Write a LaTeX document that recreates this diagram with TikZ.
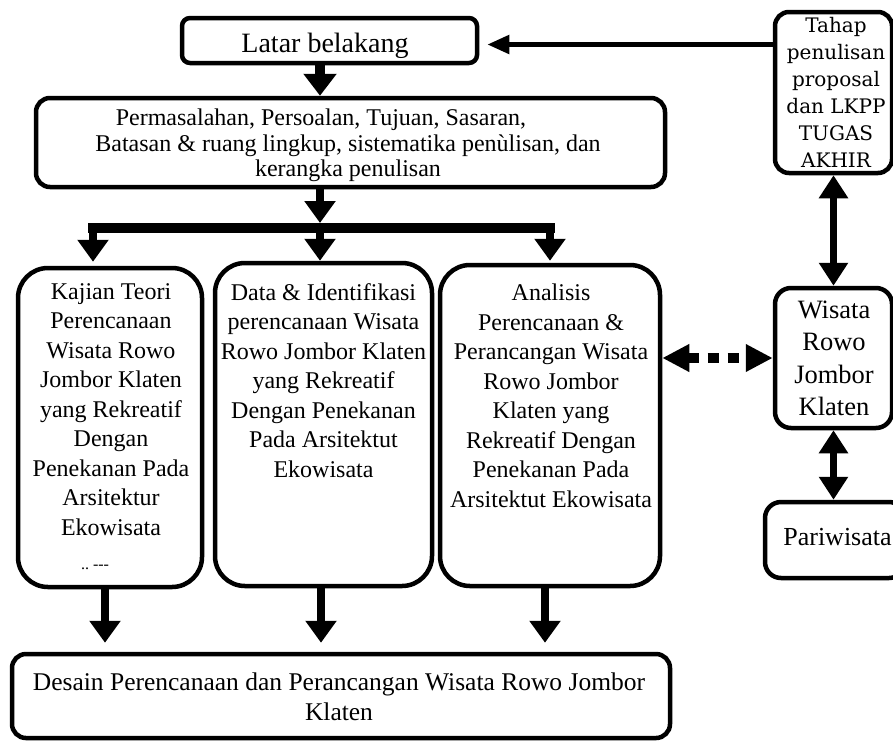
\documentclass[tikz,border=0pt]{standalone}
\usepackage{fontspec}
\setmainfont{Liberation Serif}
\newfontfamily\slabfont{DejaVu Serif}
\usetikzlibrary{arrows.meta}
\begin{document}
\begin{tikzpicture}[x=1pt,y=-1pt,
  box/.style={draw=black, fill=white, line width=4.5pt, rounded corners=#1, inner sep=0pt},
  box/.default=12pt,
  txt/.style={inner sep=0pt, align=center, anchor=north},
  t24/.style={font=\fontsize{24}{29.5}\selectfont},
  toparr/.style={line width=5pt, -{Triangle[length=22pt,width=18pt]}},
  bigarr/.style={line width=10pt, -{Triangle[length=22pt,width=32pt]}},
  arr/.style={line width=8pt, -{Triangle[length=22pt,width=30pt]}},
  dbl/.style={line width=7.5pt, {Triangle[length=23pt,width=28pt]}-{Triangle[length=23pt,width=28pt]}},
  dotarr/.style={line width=10pt, dash pattern=on 11pt off 9pt, {Triangle[length=27pt,width=26pt]}-{Triangle[length=27pt,width=26pt]}}
]
\useasboundingbox (0,0) rectangle (893,742);

% boxes
\node[box=8pt, minimum width=295pt, minimum height=45pt] (latar) at (329.5,40.5) {};
\node[box=14pt, minimum width=629pt, minimum height=89pt] (perm) at (350.5,142.5) {};
\node[box=30pt, minimum width=184pt, minimum height=319pt] (b1) at (110,427.5) {};
\node[box=30pt, minimum width=217pt, minimum height=323pt] (b2) at (323.5,424.5) {};
\node[box=30pt, minimum width=220pt, minimum height=321pt] (b3) at (550,425.5) {};
\node[box=14pt, minimum width=658pt, minimum height=84pt] (bot) at (341,696) {};
\node[box=14pt, minimum width=117pt, minimum height=161pt] (tahap) at (833.5,92.5) {};
\node[box=16pt, minimum width=117pt, minimum height=140pt] (wis) at (833.5,358) {};
\node[box=16pt, minimum width=140pt, minimum height=76pt] (pari) at (835,540) {};

% texts
\node[inner sep=0pt, anchor=base, font=\fontsize{28}{30}\selectfont] (latart) at (325,52) {Latar belakang};
\node[txt, font=\fontsize{24}{25.5}\selectfont] (permt) at (348,109)
  {Permasalahan, Persoalan, Tujuan, Sasaran,\hspace*{54pt}\mbox{}\\
   Batasan \& ruang lingkup, sistematika penùlisan, dan\\
   kerangka penulisan};
\node[txt, t24] (b1t) at (111,283)
  {Kajian Teori\\ Perencanaan\\ Wisata Rowo\\ Jombor Klaten\\ yang Rekreatif\\ Dengan\\ Penekanan Pada\\ Arsitektur\\ Ekowisata};
\node[inner sep=0pt, font=\fontsize{16}{16}\selectfont] (b1more) at (95,567) {..\ -{}-{}-};
\node[txt, t24] (b2t) at (323.5,283)
  {Data \& Identifikasi\\ perencanaan Wisata\\ Rowo Jombor Klaten\\ yang Rekreatif\\ Dengan Penekanan\\ Pada Arsitektut\\ Ekowisata};
\node[txt, t24] (b3t) at (551,284)
  {Analisis\\ Perencanaan \&\\ Perancangan Wisata\\ Rowo Jombor\\ Klaten yang\\ Rekreatif Dengan\\ Penekanan Pada\\ Arsitektut Ekowisata};
\node[txt, font=\fontsize{25.5}{30}\selectfont] (bott) at (339,673)
  {Desain Perencanaan dan Perancangan Wisata Rowo Jombor\\ Klaten};
\node[txt, font=\slabfont\fontsize{20}{27}\selectfont] (taht) at (836,17)
  {Tahap\\ penulisan\\ proposal\\ dan LKPP\\ TUGAS\\ AKHIR};
\node[txt, font=\fontsize{26.5}{32.5}\selectfont] (wist) at (834,300.5)
  {Wisata\\ Rowo\\ Jombor\\ Klaten};
\node[inner sep=0pt, font=\fontsize{26}{28}\selectfont] (parit) at (837.5,537) {Pariwisata};

% bar coordinates
\coordinate (j1) at (93,228);
\coordinate (j2) at (320,228);
\coordinate (j3) at (550,228);
\coordinate (barL) at (88,228);
\coordinate (barR) at (555,228);
\coordinate (ta) at ([xshift=8pt,yshift=-4pt]latar.east);

% connectors
\draw[toparr] (tahap.west |- ta) -- (ta);
\draw[bigarr] ([xshift=-9.5pt]latar.south) -- ([xshift=-9.5pt]latar.south |- perm.north);
\draw[arr] (perm.south -| j2) -- ([yshift=5pt]j2);
\draw[line width=10pt] (barL) -- (barR);
\draw[arr, shorten >=4pt] (j1) -- (j1 |- b1.north);
\draw[arr] (j2) -- (j2 |- b2.north);
\draw[arr, shorten >=2pt] (j3) -- (j3 |- b3.north);
\draw[arr, shorten >=9pt] ([xshift=-5pt]b1.south) -- ([xshift=-5pt]b1.south |- bot.north);
\draw[arr, shorten >=9pt] ([xshift=-2.5pt]b2.south) -- ([xshift=-2.5pt]b2.south |- bot.north);
\draw[arr, shorten >=9pt] ([xshift=-5pt]b3.south) -- ([xshift=-5pt]b3.south |- bot.north);
\draw[dbl] (tahap.south) -- (wis.north);
\draw[dbl] (wis.south) -- (wis.south |- pari.north);
\draw[dotarr] (b3.east |- wis.west) -- (wis.west);
\end{tikzpicture}
\end{document}
